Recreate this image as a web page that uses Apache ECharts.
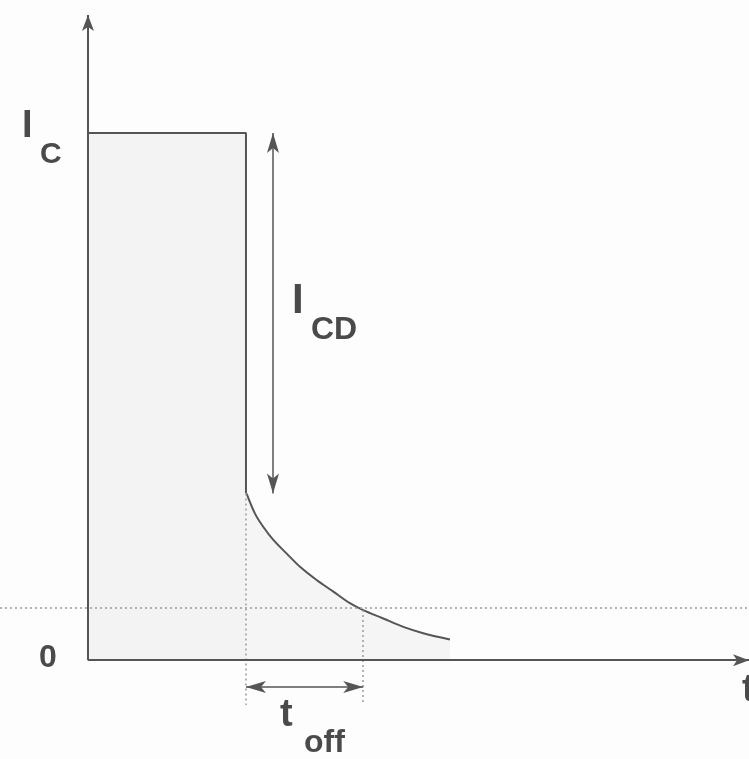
<!DOCTYPE html>
<html>
<head>
<meta charset="utf-8">
<script src="https://cdn.jsdelivr.net/npm/echarts@6/dist/echarts.min.js"></script>
<style>
  html, body { margin: 0; padding: 0; background: #fdfdfd; }
  #chart { width: 749px; height: 759px; }
</style>
</head>
<body>
<div id="chart"></div>
<script>
// Collector current during turn-off (normalised: I_C = 1, switch-off instant t = 1)
const pulse = [[0, 1], [1, 1], [1, 0.316]];
const tail = [
  [1.004, 0.316], [1.057, 0.278], [1.109, 0.253], [1.173, 0.228],
  [1.258, 0.202], [1.342, 0.177], [1.447, 0.152], [1.553, 0.130],
  [1.658, 0.108], [1.742, 0.095], [1.869, 0.079], [1.996, 0.063],
  [2.122, 0.051], [2.291, 0.039]
];
const thresholdLevel = 0.095;   // current level marking the end of t_off
const tOffStart = 1.0;
const tOffEnd = 1.742;
const tOffArrowY = -0.051;
const dropArrowX = 1.171;
const dropTop = 1;
const dropBottom = 0.316;
const guideBottom = -0.085;

const xRange = [-0.557, 4.184];
const yRange = [-0.18, 1.224];

const ink = '#555';
const dotted = { color: '#9a9a9a', width: 1.5, type: [2, 3] };
const hidden = {
  axisLabel: { show: false }, axisTick: { show: false },
  splitLine: { show: false }, axisLine: { show: false }
};

const chart = echarts.init(document.getElementById('chart'));

chart.setOption({
  backgroundColor: '#fdfdfd',
  animation: false,
  grid: { left: 0, right: 0, top: 15, height: 740 },
  xAxis: Object.assign({ type: 'value', min: xRange[0], max: xRange[1] }, hidden),
  yAxis: Object.assign({ type: 'value', min: yRange[0], max: yRange[1] }, hidden),
  series: [
    {
      type: 'line', data: pulse, symbol: 'none', z: 3,
      lineStyle: { color: ink, width: 2 },
      areaStyle: { color: '#f3f3f3', opacity: 1 },
      markLine: {
        silent: true, symbol: ['none', 'none'], label: { show: false },
        lineStyle: dotted,
        data: [
          { yAxis: thresholdLevel },
          [{ coord: [tOffStart, dropBottom] }, { coord: [tOffStart, guideBottom] }],
          [{ coord: [tOffEnd, thresholdLevel] }, { coord: [tOffEnd, guideBottom] }]
        ]
      }
    },
    {
      type: 'line', data: tail, symbol: 'none', smooth: 0.3, z: 3,
      lineStyle: { color: ink, width: 2 },
      areaStyle: { color: '#f5f5f5', opacity: 1 },
      markLine: {
        silent: true, symbol: ['arrow', 'arrow'], symbolSize: [9, 20],
        label: { show: false },
        lineStyle: { color: ink, width: 1.5, type: 'solid' },
        data: [
          [{ coord: [dropArrowX, dropTop] }, { coord: [dropArrowX, dropBottom] }],
          [{ coord: [tOffStart, tOffArrowY] }, { coord: [tOffEnd, tOffArrowY] }]
        ]
      }
    },
    {
      // time and current axes, both starting at the origin with an arrow head
      type: 'line', data: [], z: 4,
      markLine: {
        silent: true, symbol: ['none', 'arrow'], symbolSize: [9, 16],
        label: { show: false },
        lineStyle: { color: ink, width: 2, type: 'solid' },
        data: [
          [{ coord: [0, 0] }, { coord: [0, yRange[1]] }],
          [{ coord: [0, 0] }, { coord: [xRange[1], 0] }]
        ]
      }
    }
  ],
  graphic: [
    { type: 'text', left: 22, top: 108, style: { text: 'I', font: 'bold 38px "Liberation Sans", Arial, sans-serif', fill: '#4a4a4a' } },
    { type: 'text', left: 40, top: 140, style: { text: 'C', font: 'bold 30px "Liberation Sans", Arial, sans-serif', fill: '#4a4a4a' } },
    { type: 'text', left: 292, top: 280, style: { text: 'I', font: 'bold 42px "Liberation Sans", Arial, sans-serif', fill: '#4a4a4a' } },
    { type: 'text', left: 311, top: 314, style: { text: 'CD', font: 'bold 32px "Liberation Sans", Arial, sans-serif', fill: '#4a4a4a' } },
    { type: 'text', left: 39, top: 642, style: { text: '0', font: 'bold 32px "Liberation Sans", Arial, sans-serif', fill: '#4a4a4a' } },
    { type: 'text', left: 280, top: 697, style: { text: 't', font: 'bold 38px "Liberation Sans", Arial, sans-serif', fill: '#4a4a4a' } },
    { type: 'text', left: 304, top: 727, style: { text: 'off', font: 'bold 32px "Liberation Sans", Arial, sans-serif', fill: '#4a4a4a' } },
    { type: 'text', left: 742, top: 672, style: { text: 't', font: 'bold 38px "Liberation Sans", Arial, sans-serif', fill: '#4a4a4a' } }
  ]
});
</script>
</body>
</html>
